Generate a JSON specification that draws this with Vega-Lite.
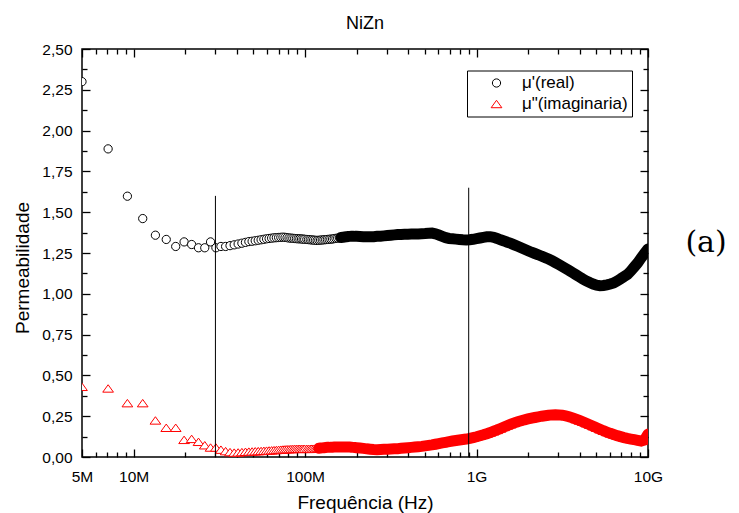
{
"$schema":"https://vega.github.io/schema/vega-lite/v6.json",
"width":566,"height":408,
"autosize":{"type":"none"},
"padding":{"left":82,"top":49,"right":91,"bottom":56},
"background":"white",
"title":{"text":"NiZn","fontSize":18,"font":"Liberation Sans","fontWeight":"normal","color":"black","frame":"group","anchor":"middle","baseline":"alphabetic","offset":20,"dy":25},
"config":{
"view":{"stroke":"black","strokeWidth":1.5},
"axis":{"domain":false,"grid":false,"tickColor":"black","tickWidth":1.3,"labelFont":"Liberation Sans","labelFontSize":15.5,"labelColor":"black","titleFont":"Liberation Sans","titleFontSize":19,"titleFontWeight":"normal","titleColor":"black","labelFlush":false,"labelOverlap":false,"minExtent":0}
},
"data":{"values":[
{"f":5.0e6,"re":2.30,"im":0.43},
{"f":7.1e6,"re":1.888,"im":0.42},
{"f":9.2e6,"re":1.598,"im":0.33},
{"f":11.3e6,"re":1.461,"im":0.33},
{"f":13.4e6,"re":1.359,"im":0.224},
{"f":15.5e6,"re":1.333,"im":0.179},
{"f":17.6e6,"re":1.290,"im":0.179},
{"f":19.7e6,"re":1.318,"im":0.105},
{"f":21.8e6,"re":1.302,"im":0.111},
{"f":23.9e6,"re":1.282,"im":0.093},
{"f":26.0e6,"re":1.282,"im":0.072},
{"f":28.1e6,"re":1.318,"im":0.058},
{"f":30.2e6,"re":1.282,"im":0.058},
{"f":32.3e6,"re":1.290,"im":0.045},
{"f":34.4e6,"re":1.290,"im":0.036},
{"f":36.5e6,"re":1.295,"im":0.030},
{"f":38.6e6,"re":1.300,"im":0.027},
{"f":40.7e6,"re":1.305,"im":0.028},
{"f":42.8e6,"re":1.310,"im":0.030},
{"f":44.9e6,"re":1.315,"im":0.032},
{"f":47.0e6,"re":1.320,"im":0.033},
{"f":49.1e6,"re":1.322,"im":0.034},
{"f":51.2e6,"re":1.325,"im":0.035},
{"f":53.3e6,"re":1.328,"im":0.036},
{"f":55.4e6,"re":1.331,"im":0.037},
{"f":57.5e6,"re":1.334,"im":0.038},
{"f":59.6e6,"re":1.337,"im":0.039},
{"f":61.7e6,"re":1.339,"im":0.040},
{"f":63.8e6,"re":1.341,"im":0.041},
{"f":65.9e6,"re":1.343,"im":0.042},
{"f":68.0e6,"re":1.344,"im":0.043},
{"f":70.1e6,"re":1.345,"im":0.044},
{"f":72.2e6,"re":1.346,"im":0.045},
{"f":74.3e6,"re":1.347,"im":0.046},
{"f":76.4e6,"re":1.346,"im":0.047},
{"f":78.5e6,"re":1.344,"im":0.048},
{"f":80.6e6,"re":1.342,"im":0.048},
{"f":82.7e6,"re":1.341,"im":0.049},
{"f":84.8e6,"re":1.340,"im":0.049},
{"f":86.9e6,"re":1.339,"im":0.050},
{"f":89.0e6,"re":1.338,"im":0.050},
{"f":91.1e6,"re":1.337,"im":0.050},
{"f":93.2e6,"re":1.337,"im":0.050},
{"f":95.3e6,"re":1.336,"im":0.050},
{"f":97.4e6,"re":1.335,"im":0.050},
{"f":99.5e6,"re":1.334,"im":0.050},
{"f":1.0233e8,"re":1.333,"im":0.050},
{"f":1.0471e8,"re":1.332,"im":0.050},
{"f":1.0715e8,"re":1.331,"im":0.050},
{"f":1.0965e8,"re":1.330,"im":0.051},
{"f":1.1220e8,"re":1.329,"im":0.051},
{"f":1.1482e8,"re":1.328,"im":0.052},
{"f":1.1749e8,"re":1.327,"im":0.053},
{"f":1.2023e8,"re":1.328,"im":0.054},
{"f":1.2303e8,"re":1.329,"im":0.055},
{"f":1.2589e8,"re":1.330,"im":0.056},
{"f":1.2882e8,"re":1.331,"im":0.057},
{"f":1.3183e8,"re":1.332,"im":0.058},
{"f":1.3490e8,"re":1.333,"im":0.059},
{"f":1.3804e8,"re":1.334,"im":0.059},
{"f":1.4125e8,"re":1.335,"im":0.060},
{"f":1.4454e8,"re":1.336,"im":0.060},
{"f":1.4791e8,"re":1.338,"im":0.061},
{"f":1.5136e8,"re":1.340,"im":0.061},
{"f":1.5488e8,"re":1.341,"im":0.062},
{"f":1.5849e8,"re":1.343,"im":0.062},
{"f":1.6218e8,"re":1.345,"im":0.062},
{"f":1.6596e8,"re":1.346,"im":0.062},
{"f":1.6982e8,"re":1.348,"im":0.062},
{"f":1.7378e8,"re":1.349,"im":0.062},
{"f":1.7783e8,"re":1.351,"im":0.061},
{"f":1.8197e8,"re":1.352,"im":0.061},
{"f":1.8621e8,"re":1.353,"im":0.060},
{"f":1.9055e8,"re":1.353,"im":0.059},
{"f":1.9498e8,"re":1.352,"im":0.058},
{"f":1.9953e8,"re":1.352,"im":0.057},
{"f":2.0893e8,"re":1.351,"im":0.055},
{"f":2.1878e8,"re":1.350,"im":0.053},
{"f":2.2909e8,"re":1.349,"im":0.050},
{"f":2.3988e8,"re":1.349,"im":0.048},
{"f":2.5119e8,"re":1.350,"im":0.046},
{"f":2.6303e8,"re":1.352,"im":0.045},
{"f":2.7542e8,"re":1.353,"im":0.046},
{"f":2.8840e8,"re":1.355,"im":0.047},
{"f":3.0200e8,"re":1.357,"im":0.048},
{"f":3.1623e8,"re":1.359,"im":0.049},
{"f":3.3113e8,"re":1.361,"im":0.050},
{"f":3.4674e8,"re":1.363,"im":0.051},
{"f":3.6308e8,"re":1.364,"im":0.053},
{"f":3.8019e8,"re":1.365,"im":0.055},
{"f":3.9811e8,"re":1.365,"im":0.057},
{"f":4.1687e8,"re":1.366,"im":0.059},
{"f":4.3652e8,"re":1.366,"im":0.061},
{"f":4.5709e8,"re":1.367,"im":0.063},
{"f":4.7863e8,"re":1.368,"im":0.065},
{"f":5.0119e8,"re":1.369,"im":0.068},
{"f":5.2481e8,"re":1.371,"im":0.071},
{"f":5.4954e8,"re":1.372,"im":0.074},
{"f":5.7544e8,"re":1.367,"im":0.078},
{"f":6.0256e8,"re":1.360,"im":0.082},
{"f":6.3096e8,"re":1.352,"im":0.086},
{"f":6.6069e8,"re":1.344,"im":0.090},
{"f":6.9183e8,"re":1.339,"im":0.094},
{"f":7.2444e8,"re":1.337,"im":0.098},
{"f":7.5858e8,"re":1.335,"im":0.101},
{"f":7.9433e8,"re":1.333,"im":0.104},
{"f":8.3176e8,"re":1.331,"im":0.107},
{"f":8.7096e8,"re":1.330,"im":0.110},
{"f":9.1201e8,"re":1.331,"im":0.114},
{"f":9.5499e8,"re":1.334,"im":0.119},
{"f":1.0e9,"re":1.338,"im":0.124},
{"f":1.0471e9,"re":1.342,"im":0.130},
{"f":1.0965e9,"re":1.346,"im":0.136},
{"f":1.1482e9,"re":1.349,"im":0.143},
{"f":1.2023e9,"re":1.350,"im":0.150},
{"f":1.2589e9,"re":1.346,"im":0.158},
{"f":1.3183e9,"re":1.339,"im":0.166},
{"f":1.3804e9,"re":1.331,"im":0.175},
{"f":1.4454e9,"re":1.324,"im":0.184},
{"f":1.5136e9,"re":1.316,"im":0.193},
{"f":1.5849e9,"re":1.309,"im":0.201},
{"f":1.6596e9,"re":1.300,"im":0.209},
{"f":1.7378e9,"re":1.291,"im":0.216},
{"f":1.8197e9,"re":1.282,"im":0.222},
{"f":1.9055e9,"re":1.273,"im":0.228},
{"f":1.9953e9,"re":1.264,"im":0.233},
{"f":2.0893e9,"re":1.255,"im":0.238},
{"f":2.1878e9,"re":1.247,"im":0.242},
{"f":2.2909e9,"re":1.239,"im":0.246},
{"f":2.3988e9,"re":1.230,"im":0.250},
{"f":2.5119e9,"re":1.222,"im":0.253},
{"f":2.6303e9,"re":1.213,"im":0.256},
{"f":2.7542e9,"re":1.203,"im":0.258},
{"f":2.8840e9,"re":1.191,"im":0.259},
{"f":3.0200e9,"re":1.179,"im":0.258},
{"f":3.1623e9,"re":1.167,"im":0.256},
{"f":3.3113e9,"re":1.155,"im":0.252},
{"f":3.4674e9,"re":1.143,"im":0.247},
{"f":3.6308e9,"re":1.130,"im":0.240},
{"f":3.8019e9,"re":1.117,"im":0.232},
{"f":3.9811e9,"re":1.104,"im":0.224},
{"f":4.1687e9,"re":1.091,"im":0.216},
{"f":4.3652e9,"re":1.079,"im":0.207},
{"f":4.5709e9,"re":1.069,"im":0.198},
{"f":4.7863e9,"re":1.060,"im":0.189},
{"f":5.0119e9,"re":1.053,"im":0.179},
{"f":5.2481e9,"re":1.050,"im":0.170},
{"f":5.4954e9,"re":1.051,"im":0.161},
{"f":5.7544e9,"re":1.055,"im":0.153},
{"f":6.0256e9,"re":1.060,"im":0.145},
{"f":6.3096e9,"re":1.067,"im":0.138},
{"f":6.6069e9,"re":1.078,"im":0.131},
{"f":6.9183e9,"re":1.091,"im":0.125},
{"f":7.2444e9,"re":1.105,"im":0.119},
{"f":7.5858e9,"re":1.118,"im":0.114},
{"f":7.9433e9,"re":1.140,"im":0.110},
{"f":8.3176e9,"re":1.165,"im":0.106},
{"f":8.7096e9,"re":1.190,"im":0.102},
{"f":9.1201e9,"re":1.220,"im":0.098},
{"f":9.5499e9,"re":1.248,"im":0.105},
{"f":1.0e10,"re":1.275,"im":0.140}
]},
"resolve":{"axis":{"x":"independent","y":"independent"}},
"layer":[
{
"transform":[{"fold":["re","im"],"as":["serie","valor"]}],
"mark":{"type":"point","filled":false,"fill":"white","size":68,"strokeWidth":1,"opacity":1,"clip":true},
"encoding":{
"x":{"field":"f","type":"quantitative","scale":{"type":"log","domain":[5e6,1e10],"nice":false},
"axis":{"orient":"top","values":[5e6,1e7,1e8,1e9,1e10],"tickSize":-8,"labels":false,"title":null}},
"y":{"field":"valor","type":"quantitative","scale":{"domain":[0,2.5],"nice":false,"zero":false},
"axis":{"orient":"right","values":[0,0.25,0.5,0.75,1,1.25,1.5,1.75,2,2.25,2.5],"tickSize":-8,"labels":false,"title":null}},
"shape":{"field":"serie","type":"nominal","scale":{"domain":["re","im"],"range":["circle","M0,-0.9L-1.3,0.9L1.3,0.9Z"]},
"legend":{"title":null,"orient":"none","legendX":385,"legendY":21.5,"strokeColor":"black","fillColor":"white","padding":4,"rowPadding":3,"symbolSize":68,"symbolStrokeWidth":1,"symbolOffset":17,"labelOffset":17,"labelFontSize":17,"labelFont":"Liberation Sans","labelColor":"black","symbolFillColor":"white","labelExpr":"datum.value == 're' ? \"μ'(real)\" : 'μ\"(imaginaria)'"}},
"color":{"field":"serie","type":"nominal","scale":{"domain":["re","im"],"range":["black","red"]},
"legend":{"title":null,"orient":"none","legendX":385,"legendY":21.5,"strokeColor":"black","fillColor":"white","padding":4,"rowPadding":3,"symbolSize":68,"symbolStrokeWidth":1,"symbolOffset":17,"labelOffset":17,"labelFontSize":17,"labelFont":"Liberation Sans","labelColor":"black","symbolFillColor":"white","labelExpr":"datum.value == 're' ? \"μ'(real)\" : 'μ\"(imaginaria)'"}}
}
},
{
"transform":[{"filter":"datum.f >= 160000000"}],
"mark":{"type":"line","color":"black","strokeWidth":11,"strokeCap":"round","clip":true},
"encoding":{
"x":{"field":"f","type":"quantitative","scale":{"type":"log","domain":[5e6,1e10],"nice":false},
"axis":{"orient":"bottom","values":[6e6,7e6,8e6,9e6,2e7,3e7,4e7,5e7,6e7,7e7,8e7,9e7,2e8,3e8,4e8,5e8,6e8,7e8,8e8,9e8,2e9,3e9,4e9,5e9,6e9,7e9,8e9,9e9],"tickSize":-5,"labels":false,"title":null}},
"y":{"field":"re","type":"quantitative","scale":{"domain":[0,2.5],"nice":false,"zero":false},
"axis":{"orient":"left","values":[0.125,0.375,0.625,0.875,1.125,1.375,1.625,1.875,2.125,2.375],"tickSize":-5,"labels":false,"title":null}}
}
},
{
"transform":[{"filter":"datum.f >= 120000000"}],
"mark":{"type":"line","color":"red","strokeWidth":11,"strokeCap":"round","clip":true},
"encoding":{
"x":{"field":"f","type":"quantitative","scale":{"type":"log","domain":[5e6,1e10],"nice":false},
"axis":{"orient":"top","values":[6e6,7e6,8e6,9e6,2e7,3e7,4e7,5e7,6e7,7e7,8e7,9e7,2e8,3e8,4e8,5e8,6e8,7e8,8e8,9e8,2e9,3e9,4e9,5e9,6e9,7e9,8e9,9e9],"tickSize":-5,"labels":false,"title":null}},
"y":{"field":"im","type":"quantitative","scale":{"domain":[0,2.5],"nice":false,"zero":false},
"axis":{"orient":"right","values":[0.125,0.375,0.625,0.875,1.125,1.375,1.625,1.875,2.125,2.375],"tickSize":-5,"labels":false,"title":null}}
}
},
{
"data":{"values":[{"f":3.0e7,"lo":0,"hi":1.6},{"f":9.0e8,"lo":0,"hi":1.65}]},
"mark":{"type":"rule","color":"black","strokeWidth":1},
"encoding":{
"x":{"field":"f","type":"quantitative","scale":{"type":"log","domain":[5e6,1e10],"nice":false},
"axis":{"orient":"bottom","values":[5e6,1e7,1e8,1e9,1e10],"tickSize":-8,"labelPadding":20,
"labelExpr":"datum.value == 5000000 ? '5M' : datum.value == 10000000 ? '10M' : datum.value == 100000000 ? '100M' : datum.value == 1000000000 ? '1G' : '10G'",
"title":"Frequência (Hz)","titleY":51,"titleBaseline":"alphabetic"}},
"y":{"field":"lo","type":"quantitative","scale":{"domain":[0,2.5],"nice":false,"zero":false},
"axis":{"orient":"left","values":[0,0.25,0.5,0.75,1,1.25,1.5,1.75,2,2.25,2.5],"tickSize":-8,"labelPadding":18,
"labelExpr":"replace(format(datum.value, '.2f'), '.', ',')",
"title":"Permeabilidade","titleX":-54,"titleY":218.5,"titleBaseline":"alphabetic","titleAngle":270}},
"y2":{"field":"hi"}
}
},
{
"data":{"values":[{"f":2.18e10,"v":1.314,"t":"(a)"}]},
"mark":{"type":"text","font":"DejaVu Serif","fontSize":30,"align":"center","baseline":"middle","color":"black"},
"encoding":{
"x":{"field":"f","type":"quantitative","scale":{"type":"log","domain":[5e6,1e10],"nice":false},"axis":null},
"y":{"field":"v","type":"quantitative","scale":{"domain":[0,2.5],"nice":false,"zero":false},"axis":null},
"text":{"field":"t"}
}
}
]
}
